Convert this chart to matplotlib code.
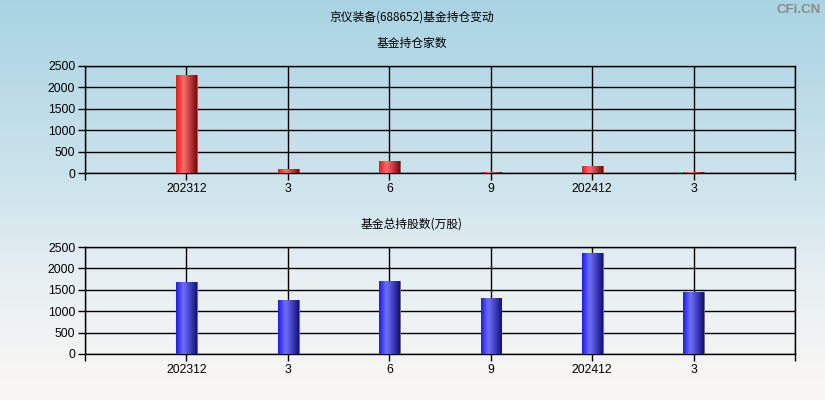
import matplotlib
matplotlib.use("Agg")
import matplotlib.pyplot as plt
import numpy as np
from matplotlib.colors import LinearSegmentedColormap

plt.rcParams['font.family'] = ['Noto Sans CJK SC', 'DejaVu Sans']

title = "京仪装备(688652)基金持仓变动"
sub1 = "基金持仓家数"
sub2 = "基金总持股数(万股)"
categories = ["202312", "3", "6", "9", "202412", "3"]
fund_count = [2290, 93, 280, 20, 164, 20]
fund_shares = [1673, 1252, 1713, 1315, 2367, 1439]
yticks = [0, 500, 1000, 1500, 2000, 2500]

fig = plt.figure(figsize=(8.25, 4.0), dpi=100)

# background gradient
bg = fig.add_axes([0, 0, 1, 1], zorder=-10)
grad = np.linspace(0, 1, 256).reshape(-1, 1)
bgcmap = LinearSegmentedColormap.from_list(
    "bg", [(0.0, (0.66, 0.83, 0.89)), (0.5, (0.82, 0.90, 0.93)),
           (0.7, (0.91, 0.94, 0.95)), (1.0, (0.98, 0.97, 0.96))])
bg.imshow(grad, aspect='auto', cmap=bgcmap, extent=[0, 1, 0, 1], origin='upper')
bg.axis('off')

red_cmap = LinearSegmentedColormap.from_list("r", [(0.0, "#ff1010"), (0.35, "#ff7070"), (1.0, "#7a0a0a")])
blue_cmap = LinearSegmentedColormap.from_list("b", [(0.0, "#1a1aff"), (0.35, "#7070ff"), (1.0, "#12127a")])

def draw(ax, values, cmap):
    x = np.arange(len(values))
    w = 0.2
    for xi, v in zip(x, values):
        ax.bar(xi + 0.015, v, width=w, color="#707070", zorder=2.5)
        bars = ax.bar(xi, v, width=w, color='none', zorder=3)
        b = bars[0]
        gimg = np.linspace(0, 1, 64).reshape(1, -1)
        im = ax.imshow(gimg, cmap=cmap, aspect='auto',
                       extent=[xi - w / 2, xi + w / 2, 0, v], zorder=3, interpolation='bilinear')
        im.set_clip_path(b)
    ax.set_xlim(-1, 6)
    ax.set_ylim(0, 2500)
    ax.set_facecolor('none')
    ax.set_yticks(yticks)
    ax.set_xticks(list(range(-1, 7)))
    ax.set_xticklabels([""] + categories + [""])
    ax.grid(True, color='black', linewidth=1)
    ax.set_axisbelow(True)
    for s in ax.spines.values():
        s.set_color('black')
        s.set_linewidth(1)
    ax.tick_params(axis='both', direction='out', length=5, width=1, labelsize=8.7,
                   colors='black', pad=2)
    for lab in ax.get_xticklabels() + ax.get_yticklabels():
        lab.set_family(['Liberation Sans', 'DejaVu Sans'])

ax1 = fig.add_axes([85/825, 1 - 173/400, 710/825, 107/400])
ax2 = fig.add_axes([85/825, 1 - 354/400, 710/825, 107/400])
draw(ax1, fund_count, red_cmap)
draw(ax2, fund_shares, blue_cmap)

fig.text(412/825, 1 - 17/400, title, ha='center', va='center', fontsize=8.5)
fig.text(412/825, 1 - 43/400, sub1, ha='center', va='center', fontsize=8.5)
fig.text(412/825, 1 - 224/400, sub2, ha='center', va='center', fontsize=8.5)
fig.text(821/825, 1 - 10/400, "CFi.CN", ha='right', va='center', fontsize=9.5,
         color='#8c8c8c', fontweight='bold', family=['Liberation Sans', 'DejaVu Sans'])

fig.savefig("out.png", dpi=100)
